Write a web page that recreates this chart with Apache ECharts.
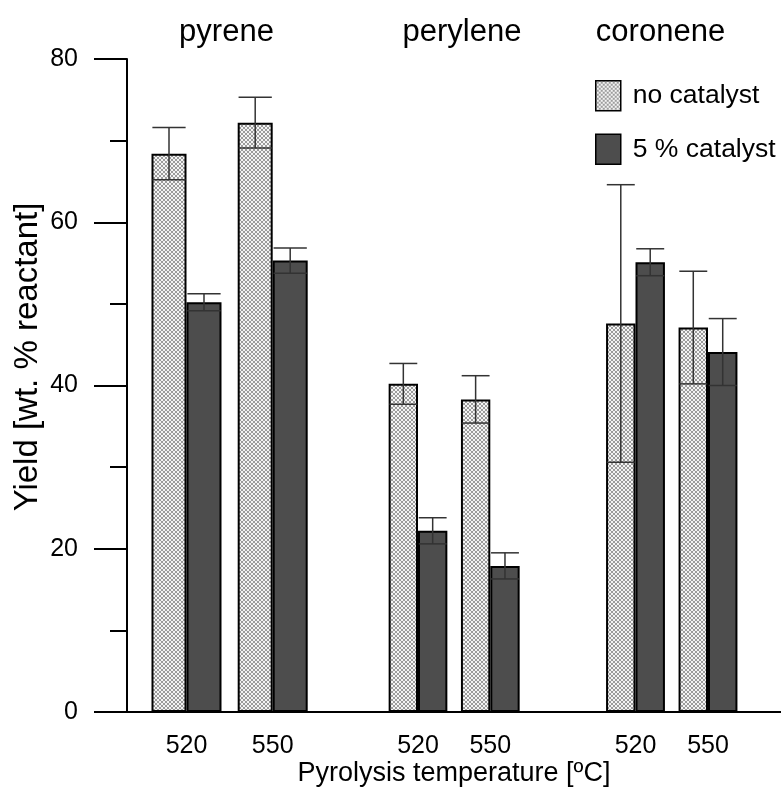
<!DOCTYPE html>
<html>
<head>
<meta charset="utf-8">
<script src="https://cdn.jsdelivr.net/npm/echarts@6/dist/echarts.min.js"></script>
<style>
  html, body { margin: 0; padding: 0; background: #fff; }
  #chart { width: 781px; height: 787px; }
</style>
</head>
<body>
<div id="chart"></div>
<script>
// Pyrolysis temperatures (one bar pair per temperature) and compounds
const temperatures = ['520', '550'];
const compounds = ['pyrene', 'perylene', 'coronene'];

// Yield [wt. % reactant] per temperature, without and with 5 % catalyst
const pyreneNoCat = [68.4, 72.2];
const pyreneCat = [50.2, 55.3];
const peryleneNoCat = [40.2, 38.3];
const peryleneCat = [22.2, 17.9];
const coroneneNoCat = [47.6, 47.1];
const coroneneCat = [55.1, 44.1];

// Error bar half-lengths (same units)
const pyreneNoCatErr = [3.2, 3.1];
const pyreneCatErr = [1.05, 1.55];
const peryleneNoCatErr = [2.5, 2.9];
const peryleneCatErr = [1.6, 1.6];
const coroneneNoCatErr = [17.0, 6.9];
const coroneneCatErr = [1.65, 4.1];

const yTicks = [0, 20, 40, 60, 80];

const FONT = 'Liberation Sans';
const BAR_FRACTION = 0.406;   // bar width as a share of the category band

// light cross-hatch fill used for the "no catalyst" bars
function hatchPattern() {
  const c = document.createElement('canvas');
  c.width = 4; c.height = 4;
  const ctx = c.getContext('2d');
  ctx.fillStyle = '#f4f4f4';
  ctx.fillRect(0, 0, 4, 4);
  ctx.fillStyle = '#9c9c9c';
  [[0, 0], [1, 1], [2, 2], [3, 3], [3, 0], [2, 1], [1, 2], [0, 3]]
    .forEach(([x, y]) => ctx.fillRect(x, y, 1, 1));
  return c;
}
const hatch = { image: hatchPattern(), repeat: 'repeat' };

const groupData = [
  { noCat: pyreneNoCat, cat: pyreneCat, noCatErr: pyreneNoCatErr, catErr: pyreneCatErr },
  { noCat: peryleneNoCat, cat: peryleneCat, noCatErr: peryleneNoCatErr, catErr: peryleneCatErr },
  { noCat: coroneneNoCat, cat: coroneneCat, noCatErr: coroneneNoCatErr, catErr: coroneneCatErr }
];

function renderErrorBar(params, api) {
  const band = api.size([1, 0])[0];
  const half = band * BAR_FRACTION / 2;
  const side = api.value(3);
  const val = api.value(1);
  const err = api.value(2);
  const top = api.coord([api.value(0), val + err]);
  const bottom = api.coord([api.value(0), val - err]);
  const x = top[0] + side * half;
  const cap = half * 0.95;
  const style = { stroke: '#333333', lineWidth: 1.5 };
  return {
    type: 'group',
    children: [
      { type: 'line', shape: { x1: x, y1: top[1], x2: x, y2: bottom[1] }, style },
      { type: 'line', shape: { x1: x - cap, y1: top[1], x2: x + cap, y2: top[1] }, style },
      { type: 'line', shape: { x1: x - cap, y1: bottom[1], x2: x + cap, y2: bottom[1] }, style }
    ]
  };
}

const gridBase = { top: 59, bottom: 75, outerBoundsMode: 'none', containLabel: false };
const grids = [
  Object.assign({ left: 127, right: 0 }, gridBase),          // frame with the axes
  Object.assign({ left: 143.4, width: 172.4 }, gridBase),    // pyrene
  Object.assign({ left: 381.85, width: 144.6 }, gridBase),   // perylene
  Object.assign({ left: 599.25, width: 145 }, gridBase)      // coronene
];

const xAxes = [{
  gridIndex: 0, type: 'value', min: 0, max: 1,
  axisLine: { show: true, onZero: false, lineStyle: { color: '#000', width: 2 } },
  axisTick: { show: false }, axisLabel: { show: false }, splitLine: { show: false },
  name: 'Pyrolysis temperature [ºC]', nameLocation: 'middle', nameGap: 48,
  nameTextStyle: { fontSize: 27, color: '#000', fontFamily: FONT }
}];
const yAxes = [{
  gridIndex: 0, type: 'value', min: yTicks[0], max: yTicks[yTicks.length - 1], interval: 20,
  axisLine: { show: true, onZero: false, lineStyle: { color: '#000', width: 2 } },
  axisTick: { show: true, length: 33, lineStyle: { color: '#000', width: 2 } },
  minorTick: { show: true, splitNumber: 2, length: 17, lineStyle: { color: '#000', width: 2 } },
  axisLabel: { fontSize: 25, color: '#000', fontFamily: FONT, margin: 49 },
  splitLine: { show: false }, minorSplitLine: { show: false }
}];

const series = [];
groupData.forEach((g, i) => {
  const gi = i + 1;
  xAxes.push({
    gridIndex: gi, type: 'category', data: temperatures,
    axisLine: { show: false }, axisTick: { show: false },
    axisLabel: { fontSize: 25, color: '#000', fontFamily: FONT, margin: 22 }
  });
  yAxes.push({ gridIndex: gi, type: 'value', min: 0, max: 80, show: false });
  series.push({
    name: 'no catalyst', type: 'bar', xAxisIndex: gi, yAxisIndex: gi,
    data: g.noCat, barWidth: (BAR_FRACTION * 100) + '%', barGap: '0%',
    itemStyle: { color: hatch, borderColor: '#000', borderWidth: 2 },
    emphasis: { disabled: true }
  });
  series.push({
    name: '5 % catalyst', type: 'bar', xAxisIndex: gi, yAxisIndex: gi,
    data: g.cat, barWidth: (BAR_FRACTION * 100) + '%', barGap: '0%',
    itemStyle: { color: '#4d4d4d', borderColor: '#000', borderWidth: 2 },
    emphasis: { disabled: true }
  });
  const errData = [];
  temperatures.forEach((t, k) => {
    errData.push([k, g.noCat[k], g.noCatErr[k], -1]);
    errData.push([k, g.cat[k], g.catErr[k], 1]);
  });
  series.push({
    name: 'error ' + compounds[i], type: 'custom', xAxisIndex: gi, yAxisIndex: gi,
    data: errData, renderItem: renderErrorBar, z: 10, silent: true, clip: false,
    encode: { x: 0, y: 1 }
  });
});

const titleX = [226.5, 462, 660.5];

const chart = echarts.init(document.getElementById('chart'), null, { renderer: 'canvas' });
chart.setOption({
  animation: false,
  backgroundColor: '#fff',
  textStyle: { fontFamily: FONT },
  grid: grids,
  xAxis: xAxes,
  yAxis: yAxes,
  legend: {
    data: ['no catalyst', '5 % catalyst'],
    orient: 'vertical', left: 590, top: 75,
    itemWidth: 25, itemHeight: 30, itemGap: 22,
    icon: 'rect',
    itemStyle: { borderColor: '#000', borderWidth: 1.5 },
    textStyle: { fontSize: 26.5, color: '#000', fontFamily: FONT, padding: [0, 0, 0, 7] },
    selectedMode: false
  },
  graphic: compounds.map((c, i) => ({
    type: 'text', x: titleX[i], y: 32,
    style: { text: c, fontSize: 31, fontFamily: FONT, fill: '#000', align: 'center', verticalAlign: 'middle' }
  })).concat([{
    type: 'text', x: 28, y: 357, rotation: Math.PI / 2,
    style: { text: 'Yield [wt. % reactant]', fontSize: 33, fontFamily: FONT, fill: '#000', align: 'center', verticalAlign: 'middle' }
  }]),
  series: series
});
</script>
</body>
</html>
